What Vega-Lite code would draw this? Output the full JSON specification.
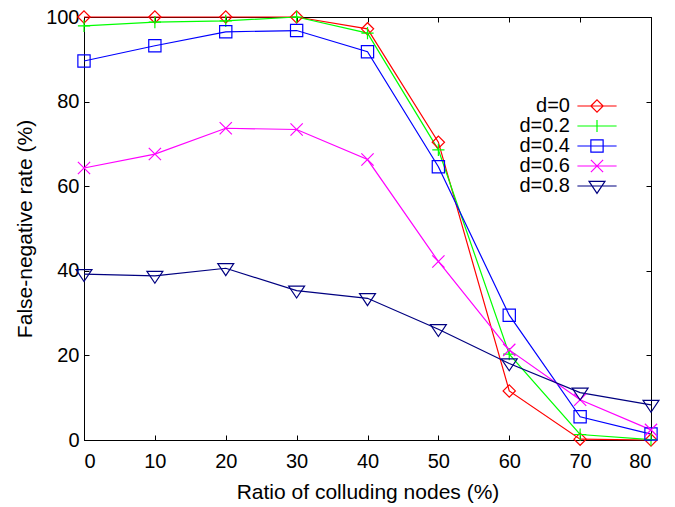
{
  "$schema": "https://vega.github.io/schema/vega-lite/v6.json",
  "width": 567,
  "height": 423,
  "autosize": {"type": "none"},
  "padding": {"left": 84, "top": 17, "right": 24, "bottom": 67},
  "background": "white",
  "config": {
    "font": "Liberation Sans",
    "view": {"stroke": "black", "strokeWidth": 1},
    "axis": {
      "grid": false,
      "domainColor": "black",
      "tickColor": "black",
      "tickSize": -5,
      "labelFontSize": 20,
      "labelColor": "black",
      "titleFontSize": 21,
      "titleFontWeight": "normal",
      "titleColor": "black"
    },
    "point": {"filled": false, "size": 150, "strokeWidth": 1.2, "opacity": 1, "clip": false}
  },
  "data": {
    "values": [
      {"ratio": 0, "rate": 100, "series": "d=0"},
      {"ratio": 10, "rate": 100, "series": "d=0"},
      {"ratio": 20, "rate": 100, "series": "d=0"},
      {"ratio": 30, "rate": 100, "series": "d=0"},
      {"ratio": 40, "rate": 97.2, "series": "d=0"},
      {"ratio": 50, "rate": 70.4, "series": "d=0"},
      {"ratio": 60, "rate": 11.6, "series": "d=0"},
      {"ratio": 70, "rate": 0.2, "series": "d=0"},
      {"ratio": 80, "rate": 0, "series": "d=0"},
      {"ratio": 0, "rate": 97.9, "series": "d=0.2"},
      {"ratio": 10, "rate": 98.8, "series": "d=0.2"},
      {"ratio": 20, "rate": 99.1, "series": "d=0.2"},
      {"ratio": 30, "rate": 100, "series": "d=0.2"},
      {"ratio": 40, "rate": 96.2, "series": "d=0.2"},
      {"ratio": 50, "rate": 68.6, "series": "d=0.2"},
      {"ratio": 60, "rate": 20.3, "series": "d=0.2"},
      {"ratio": 70, "rate": 1.3, "series": "d=0.2"},
      {"ratio": 80, "rate": 0.1, "series": "d=0.2"},
      {"ratio": 0, "rate": 89.6, "series": "d=0.4"},
      {"ratio": 10, "rate": 93.2, "series": "d=0.4"},
      {"ratio": 20, "rate": 96.5, "series": "d=0.4"},
      {"ratio": 30, "rate": 96.8, "series": "d=0.4"},
      {"ratio": 40, "rate": 91.8, "series": "d=0.4"},
      {"ratio": 50, "rate": 64.6, "series": "d=0.4"},
      {"ratio": 60, "rate": 29.5, "series": "d=0.4"},
      {"ratio": 70, "rate": 5.5, "series": "d=0.4"},
      {"ratio": 80, "rate": 1.4, "series": "d=0.4"},
      {"ratio": 0, "rate": 64.3, "series": "d=0.6"},
      {"ratio": 10, "rate": 67.6, "series": "d=0.6"},
      {"ratio": 20, "rate": 73.7, "series": "d=0.6"},
      {"ratio": 30, "rate": 73.4, "series": "d=0.6"},
      {"ratio": 40, "rate": 66.3, "series": "d=0.6"},
      {"ratio": 50, "rate": 42.2, "series": "d=0.6"},
      {"ratio": 60, "rate": 21.3, "series": "d=0.6"},
      {"ratio": 70, "rate": 9.5, "series": "d=0.6"},
      {"ratio": 80, "rate": 2.4, "series": "d=0.6"},
      {"ratio": 0, "rate": 39.2, "series": "d=0.8"},
      {"ratio": 10, "rate": 38.8, "series": "d=0.8"},
      {"ratio": 20, "rate": 40.6, "series": "d=0.8"},
      {"ratio": 30, "rate": 35.3, "series": "d=0.8"},
      {"ratio": 40, "rate": 33.5, "series": "d=0.8"},
      {"ratio": 50, "rate": 26.2, "series": "d=0.8"},
      {"ratio": 60, "rate": 18.1, "series": "d=0.8"},
      {"ratio": 70, "rate": 11.2, "series": "d=0.8"},
      {"ratio": 80, "rate": 8.3, "series": "d=0.8"}
    ]
  },
  "encoding": {
    "x": {"field": "ratio", "type": "quantitative", "scale": {"domain": [0, 80], "nice": false}, "axis": null},
    "y": {"field": "rate", "type": "quantitative", "scale": {"domain": [0, 100], "nice": false}, "axis": null},
    "color": {
      "field": "series", "type": "nominal",
      "scale": {
        "domain": ["d=0", "d=0.2", "d=0.4", "d=0.6", "d=0.8"],
        "range": ["#ff0000", "#00ff00", "#0000ff", "#ff00ff", "#000080"]
      },
      "legend": null
    }
  },
  "layer": [
    {
      "mark": {"type": "line", "strokeWidth": 1.2, "clip": false},
      "encoding": {
        "x": {
          "field": "ratio", "type": "quantitative",
          "axis": {"values": [0, 10, 20, 30, 40, 50, 60, 70, 80], "title": "Ratio of colluding nodes (%)", "labelPadding": 16, "titlePadding": 10}
        },
        "y": {
          "field": "rate", "type": "quantitative",
          "axis": {"values": [0, 20, 40, 60, 80, 100], "title": "False-negative rate (%)", "labelPadding": 10, "titlePadding": 10}
        },
        "color": {
          "field": "series", "type": "nominal",
          "legend": {
            "title": null,
            "orient": "none",
            "legendX": 503,
            "legendY": 79,
            "labelFontSize": 20,
            "labelColor": "black",
            "labelAlign": "right",
            "labelOffset": -37,
            "symbolSize": 150,
            "symbolStrokeWidth": 1.2,
            "rowPadding": -3,
            "encode": {
              "symbols": {
                "update": {
                  "fill": {"value": "transparent"},
                  "stroke": {"scale": "color", "field": "value"},
                  "shape": {"signal": "datum.value === 'd=0' ? 'M-3.2,0L3.2,0M-1,0L0,-1L1,0L0,1Z' : datum.value === 'd=0.2' ? 'M-3.2,0L3.2,0M0,-1L0,1' : datum.value === 'd=0.4' ? 'M-3.2,0L3.2,0M-1,-1L1,-1L1,1L-1,1Z' : datum.value === 'd=0.6' ? 'M-3.2,0L3.2,0M-1,-1L1,1M-1,1L1,-1' : 'M-3.2,0L3.2,0M-1.3,-0.75L1.3,-0.75L0,1.2Z'"}
                }
              }
            }
          }
        }
      }
    },
    {
      "transform": [{"filter": "datum.series === 'd=0'"}],
      "mark": {"type": "point", "shape": "diamond"}
    },
    {
      "transform": [{"filter": "datum.series === 'd=0.2'"}],
      "mark": {"type": "point", "shape": "M-1,0L1,0M0,-1L0,1"}
    },
    {
      "transform": [{"filter": "datum.series === 'd=0.4'"}],
      "mark": {"type": "point", "shape": "square"}
    },
    {
      "transform": [{"filter": "datum.series === 'd=0.6'"}],
      "mark": {"type": "point", "shape": "M-1,-1L1,1M-1,1L1,-1"}
    },
    {
      "transform": [{"filter": "datum.series === 'd=0.8'"}],
      "mark": {"type": "point", "shape": "M-1.3,-0.75L1.3,-0.75L0,1.2Z"}
    },
    {
      "mark": {"type": "point", "opacity": 0},
      "encoding": {
        "x": {"field": "ratio", "type": "quantitative", "axis": {"orient": "top", "labels": false, "title": null, "values": [0, 10, 20, 30, 40, 50, 60, 70, 80]}},
        "y": {"field": "rate", "type": "quantitative", "axis": {"orient": "right", "labels": false, "title": null, "values": [0, 20, 40, 60, 80, 100]}}
      }
    }
  ],
  "resolve": {"axis": {"x": "independent", "y": "independent"}}
}
